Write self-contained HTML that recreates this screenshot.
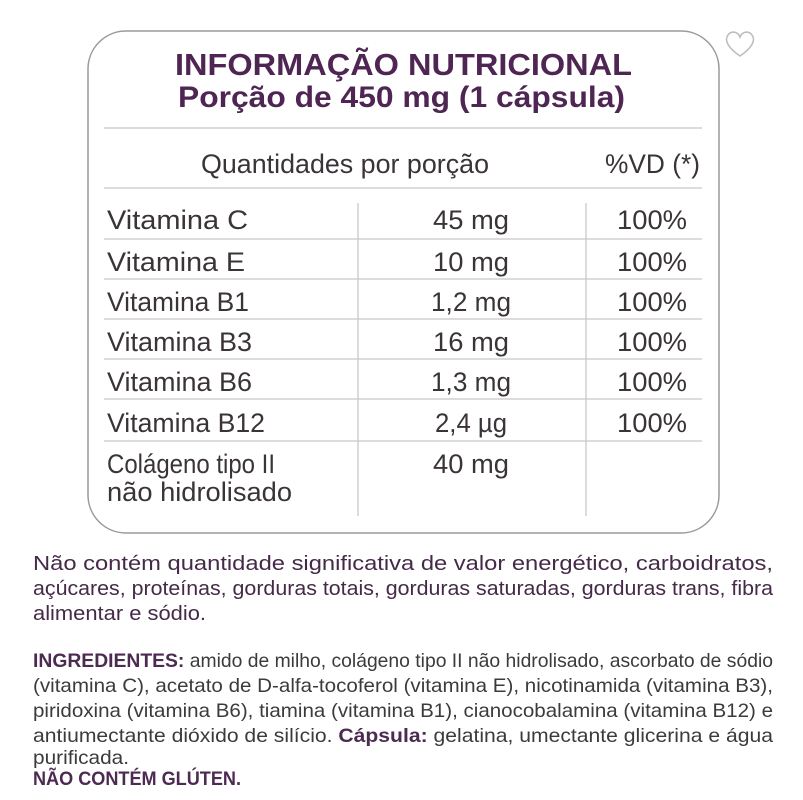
<!DOCTYPE html>
<html><head><meta charset="utf-8"><style>
html,body{margin:0;padding:0;background:#fff;}
svg{display:block;}
text{font-family:"Liberation Sans",sans-serif;}
</style></head><body>
<svg width="803" height="800" viewBox="0 0 803 800" xmlns="http://www.w3.org/2000/svg">
<rect x="88" y="31" width="631" height="502" rx="38" ry="38" fill="#fff" stroke="#9a9a9a" stroke-width="1.5"/>
<path d="M740 56 C728 48 724 40 728 35 C732 30 738 32 740 37 C742 32 748 30 752 35 C756 40 752 48 740 56Z" fill="none" stroke="#bdbdbd" stroke-width="1.6"/>
<g fill="#4f2653" font-weight="bold">
<text x="175" y="75" font-size="31" textLength="457" lengthAdjust="spacingAndGlyphs">INFORMAÇÃO NUTRICIONAL</text>
<text x="178" y="107" font-size="30" textLength="447" lengthAdjust="spacingAndGlyphs">Porção de 450 mg (1 cápsula)</text>
</g>
<g stroke="#c8c8c8" stroke-width="1.3">
<line x1="104" y1="128" x2="702" y2="128"/>
<line x1="104" y1="188" x2="702" y2="188"/>
<line x1="104" y1="239" x2="702" y2="239"/>
<line x1="104" y1="279" x2="702" y2="279"/>
<line x1="104" y1="319" x2="702" y2="319"/>
<line x1="104" y1="359" x2="702" y2="359"/>
<line x1="104" y1="399" x2="702" y2="399"/>
<line x1="104" y1="441" x2="702" y2="441"/>
<line x1="358" y1="203" x2="358" y2="516"/>
<line x1="586" y1="203" x2="586" y2="516"/>
</g>
<g fill="#3a3438" font-size="27">
<text x="201" y="173" textLength="288" lengthAdjust="spacingAndGlyphs">Quantidades por porção</text>
<text x="605" y="173" textLength="95" lengthAdjust="spacingAndGlyphs">%VD (*)</text>
<text x="107" y="229" textLength="141" lengthAdjust="spacingAndGlyphs">Vitamina C</text>
<text x="107" y="271" textLength="138" lengthAdjust="spacingAndGlyphs">Vitamina E</text>
<text x="107" y="311" textLength="142" lengthAdjust="spacingAndGlyphs">Vitamina B1</text>
<text x="107" y="351" textLength="145" lengthAdjust="spacingAndGlyphs">Vitamina B3</text>
<text x="107" y="391" textLength="145" lengthAdjust="spacingAndGlyphs">Vitamina B6</text>
<text x="107" y="432" textLength="158" lengthAdjust="spacingAndGlyphs">Vitamina B12</text>
<text x="107" y="473" textLength="168" lengthAdjust="spacingAndGlyphs">Colágeno tipo II</text>
<text x="107" y="501" textLength="185" lengthAdjust="spacingAndGlyphs">não hidrolisado</text>
<text x="433" y="229" textLength="76" lengthAdjust="spacingAndGlyphs">45 mg</text>
<text x="433" y="271" textLength="76" lengthAdjust="spacingAndGlyphs">10 mg</text>
<text x="431" y="311" textLength="80" lengthAdjust="spacingAndGlyphs">1,2 mg</text>
<text x="433" y="351" textLength="76" lengthAdjust="spacingAndGlyphs">16 mg</text>
<text x="431" y="391" textLength="80" lengthAdjust="spacingAndGlyphs">1,3 mg</text>
<text x="435" y="432" textLength="72" lengthAdjust="spacingAndGlyphs">2,4 µg</text>
<text x="433" y="473" textLength="76" lengthAdjust="spacingAndGlyphs">40 mg</text>
<text x="617" y="229" textLength="70" lengthAdjust="spacingAndGlyphs">100%</text>
<text x="617" y="271" textLength="70" lengthAdjust="spacingAndGlyphs">100%</text>
<text x="617" y="311" textLength="70" lengthAdjust="spacingAndGlyphs">100%</text>
<text x="617" y="351" textLength="70" lengthAdjust="spacingAndGlyphs">100%</text>
<text x="617" y="391" textLength="70" lengthAdjust="spacingAndGlyphs">100%</text>
<text x="617" y="432" textLength="70" lengthAdjust="spacingAndGlyphs">100%</text>
</g>
<g fill="#452a48" font-size="20">
<text x="33" y="570" textLength="740" lengthAdjust="spacingAndGlyphs">Não contém quantidade significativa de valor energético, carboidratos,</text>
<text x="33" y="595" textLength="740" lengthAdjust="spacingAndGlyphs">açúcares, proteínas, gorduras totais, gorduras saturadas, gorduras trans, fibra</text>
<text x="33" y="620" textLength="173" lengthAdjust="spacingAndGlyphs">alimentar e sódio.</text>
</g>
<g fill="#3d3a3d" font-size="19.5">
<text x="33" y="667" textLength="740" lengthAdjust="spacingAndGlyphs"><tspan font-weight="bold" fill="#4d2a52">INGREDIENTES:</tspan> amido de milho, colágeno tipo II não hidrolisado, ascorbato de sódio</text>
<text x="33" y="692" textLength="740" lengthAdjust="spacingAndGlyphs">(vitamina C), acetato de D-alfa-tocoferol (vitamina E), nicotinamida (vitamina B3),</text>
<text x="33" y="717" textLength="740" lengthAdjust="spacingAndGlyphs">piridoxina (vitamina B6), tiamina (vitamina B1), cianocobalamina (vitamina B12) e</text>
<text x="33" y="742" textLength="740" lengthAdjust="spacingAndGlyphs">antiumectante dióxido de silício. <tspan font-weight="bold" fill="#4d2a52">Cápsula:</tspan> gelatina, umectante glicerina e água</text>
<text x="33" y="764" textLength="96" lengthAdjust="spacingAndGlyphs">purificada.</text>
<text x="33" y="785" font-weight="bold" fill="#4d2a52" textLength="208" lengthAdjust="spacingAndGlyphs">NÃO CONTÉM GLÚTEN.</text>
</g>
</svg>
</body></html>
